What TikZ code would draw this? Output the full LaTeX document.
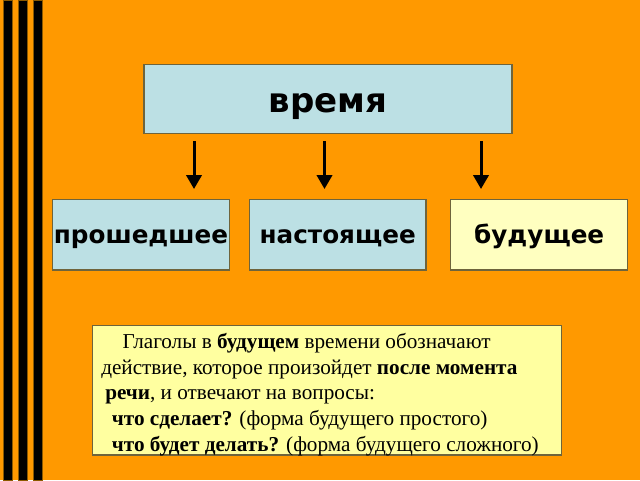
\documentclass[tikz,border=0pt]{standalone}
\usepackage{fontspec}
\setmainfont{Liberation Serif}
\newfontfamily\boxfont{DejaVu Sans}
\usetikzlibrary{arrows.meta}

\definecolor{bgorange}{RGB}{255,153,0}
\definecolor{paleblue}{RGB}{188,224,228}
\definecolor{paleyellow}{RGB}{255,255,192}
\definecolor{noteyellow}{RGB}{255,255,160}
\definecolor{edgegray}{RGB}{110,100,60}

\begin{document}
\begin{tikzpicture}[x=0.75pt,y=0.75pt,yscale=-1,xscale=1,
  tbox/.style={draw=edgegray, line width=0.9pt, inner sep=0pt, text depth=0pt},
  rowbox/.style={tbox, minimum width=132.5pt, minimum height=53pt, text height=13pt, font=\boxfont\bfseries\fontsize{18.5}{22}\selectfont},
  downarr/.style={line width=2.25pt, -{Triangle[length=10.5pt,width=11.5pt]}}]
\useasboundingbox (0,0) rectangle (640,480);

%Background
\fill [bgorange] (0,0) rectangle (640,480);
%Stripes
\foreach \sx in {3,18,33}
  \draw [draw={rgb, 255:red, 140; green, 90; blue, 0 }, line width=0.4pt, fill=black] (\sx,0) rectangle (\sx+9,480);

%Shape: Rectangle
\node [tbox, fill=paleblue, minimum width=276pt, minimum height=51.75pt, text height=20.5pt, font=\boxfont\bfseries\fontsize{25.5}{28}\selectfont] (vremya) at (328,98.7) {время};

%Shape: Rectangle
\node [rowbox, fill=paleblue] (past) at (141,234.7) {прошедшее};
%Shape: Rectangle
\node [rowbox, fill=paleblue] (present) at (337.7,234.7) {настоящее};
%Shape: Rectangle
\node [rowbox, fill=paleyellow] (future) at (539.2,234.7) {будущее};

%Straight Lines
\coordinate (a1s) at (194,141);
\coordinate (a1e) at (194,189);
\coordinate (a2s) at (324.5,141);
\coordinate (a2e) at (324.5,189);
\coordinate (a3s) at (481,141);
\coordinate (a3e) at (481,189);
\draw [downarr] (a1s) -- (a1e);
\draw [downarr] (a2s) -- (a2e);
\draw [downarr] (a3s) -- (a3e);

%Shape: Rectangle
\node [draw=edgegray, line width=0.9pt, fill=noteyellow, minimum width=351.75pt, minimum height=97pt, inner sep=0pt] (note) at (327.2,390.3) {};

% Text Node
\node [anchor=north west, inner sep=0pt, align=left, font=\fontsize{15.9}{19.3}\selectfont] (notetext) at (101,333) {%
\hspace*{16pt}Глаголы в \textbf{будущем} времени обозначают\\
действие, которое произойдет \textbf{после момента}\\
\hspace*{3pt}\textbf{речи}, и отвечают на вопросы:\\
\hspace*{8pt}\textbf{что сделает?} (форма будущего простого)\\
\hspace*{8pt}\textbf{что будет делать?} (форма будущего сложного)};

\end{tikzpicture}
\end{document}
